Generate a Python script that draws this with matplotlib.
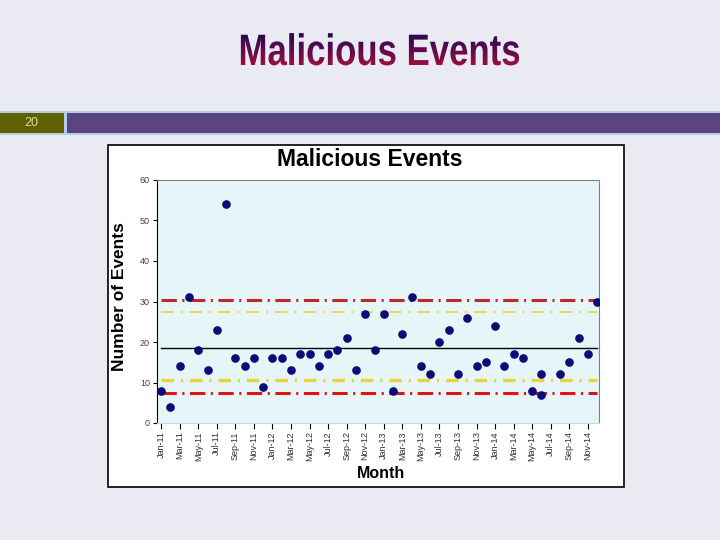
import matplotlib.pyplot as plt
import numpy as np
from matplotlib.patches import Rectangle, PathPatch
from matplotlib.textpath import TextPath
from matplotlib.font_manager import FontProperties
from matplotlib.transforms import Affine2D
from matplotlib.colors import LinearSegmentedColormap

plt.rcParams['font.family'] = ['Liberation Sans', 'DejaVu Sans']
plt.rcParams['lines.scale_dashes'] = False

# All months on the category axis
years = ['11', '12', '13', '14']
mon_names = ['Jan', 'Feb', 'Mar', 'Apr', 'May', 'Jun',
             'Jul', 'Aug', 'Sep', 'Oct', 'Nov', 'Dec']
months = ['%s-%s' % (m, y) for y in years for m in mon_names]

# Observed points (Jun-14 appears twice, Jul-14 has no point)
point_months = months[:42] + ['Jun-14'] + months[43:]
events = [8, 4, 14, 31, 18, 13, 23, 54, 16, 14, 16, 9,
          16, 16, 13, 17, 17, 14, 17, 18, 21, 13, 27, 18,
          27, 8, 22, 31, 14, 12, 20, 23, 12, 26, 14, 15,
          24, 14, 17, 16, 8, 12, 7, 12, 15, 21, 17, 30]

# Control chart limits
ucl, uwl, centre, lwl, lcl = 30.4, 27.5, 18.5, 10.6, 7.5

fig = plt.figure(figsize=(7.2, 5.4), dpi=100, facecolor='#eaeaf3')

# Slide decoration in pixel coordinates
bg = fig.add_axes([0, 0, 1, 1])
bg.axis('off')
bg.add_patch(Rectangle((0, 540 - 135), 720, 24, color='#b4cdea', lw=0))
bg.add_patch(Rectangle((0, 540 - 133), 64, 20, color='#5f6000', lw=0))
bg.add_patch(Rectangle((67, 540 - 133), 653, 20, color='#5a4580', lw=0))
bg.text(31, 540 - 123, '20', color='#dcdca0', fontsize=9,
        ha='center', va='center')

# Slide title: condensed bold text path filled with a vertical gradient
fp = FontProperties(family='Liberation Sans', weight='bold')
tp = TextPath((0, 0), 'Malicious Events', size=44, prop=fp)
tp = tp.transformed(Affine2D().scale(0.79, 1))
ext = tp.get_extents()
tp = tp.transformed(Affine2D().translate(380 - (ext.x0 + ext.x1) / 2,
                                         540 - 65))
ext = tp.get_extents()
clip = PathPatch(tp, facecolor='none', edgecolor='none',
                 transform=bg.transData)
bg.add_patch(clip)
grad = np.linspace(0, 1, 64).reshape(-1, 1)
cmap = LinearSegmentedColormap.from_list(
    'title', ['#1e0b4a', '#5a0a50', '#a0103c'])
im = bg.imshow(grad, cmap=cmap, aspect='auto', origin='upper',
               extent=(ext.x0 - 2, ext.x1 + 2, ext.y0 - 2, ext.y1 + 2),
               zorder=3)
im.set_clip_path(clip)

# White chart frame
bg.add_patch(Rectangle((108, 540 - 487), 516, 342, facecolor='white',
                       edgecolor='black', lw=1.2))
bg.set_xlim(0, 720)
bg.set_ylim(0, 540)

ax = fig.add_axes([157 / 720, 1 - 423 / 540, 442 / 720, 243 / 540])
ax.set_facecolor('#e6f6f8')

xs = [months.index(m) for m in point_months]
span = [0, len(months) - 1]
ax.plot(span, [ucl, ucl], color='#c02828', lw=2.2, dashes=(11, 4, 1.5, 4))
ax.plot(span, [lcl, lcl], color='#e01414', lw=2.2, dashes=(11, 4, 1.5, 4))
ax.plot(span, [uwl, uwl], color='#e8d84a', lw=1.3, dashes=(9, 5, 1.5, 5))
ax.plot(span, [lwl, lwl], color='#e8d43a', lw=2.4, dashes=(9, 5, 1.5, 5))
ax.plot(span, [centre, centre], color='black', lw=1)
ax.plot(xs, events, 'o', color='#0a0a78', markersize=5.2, zorder=5)

ax.set_xlim(-0.45, 47.2)
ax.set_ylim(0, 60)
ax.set_xticks(range(0, len(months), 2))
ax.set_xticklabels(months[::2], rotation=90, fontsize=6.5, color='#303030')
ax.set_yticks(range(0, 61, 10))
ax.tick_params(axis='y', labelsize=6.5, labelcolor='#404040', length=3,
               width=0.8, pad=2)
ax.tick_params(axis='x', length=4, width=0.8, pad=2)

for side in ['top', 'right']:
    ax.spines[side].set_color('#808080')
ax.spines['left'].set_color('black')
ax.spines['bottom'].set_color('#c8d8dc')

fig.text(370 / 720, 1 - 160 / 540, 'Malicious Events', fontsize=16.5,
         fontweight='bold', ha='center', va='center')
fig.text(120 / 720, 1 - 297 / 540, 'Number of Events', fontsize=12.5,
         fontweight='bold', rotation=90, ha='center', va='center')
fig.text(381 / 720, 1 - 473 / 540, 'Month', fontsize=11.5,
         fontweight='bold', ha='center', va='center')

fig.savefig('out.png', dpi=100, facecolor=fig.get_facecolor())
